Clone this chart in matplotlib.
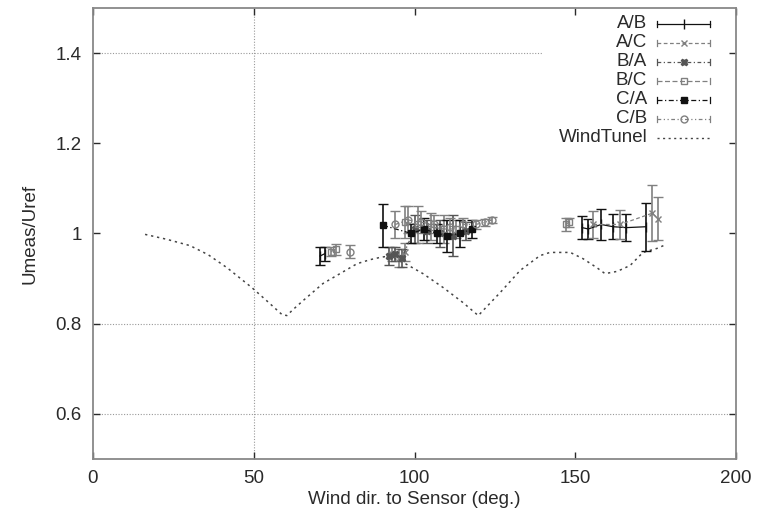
import numpy as np
import matplotlib
matplotlib.use("Agg")
import matplotlib.pyplot as plt
from matplotlib.lines import Line2D

plt.rcParams['font.family'] = ['Liberation Sans', 'DejaVu Sans']

# ---- data ----
AB_x = [70.6, 72.0, 152.1, 154.0, 158.0, 161.7, 165.8, 172.0]
AB_y = [0.950, 0.955, 1.013, 1.010, 1.020, 1.015, 1.013, 1.015]
AB_e = [0.020, 0.015, 0.026, 0.023, 0.034, 0.028, 0.030, 0.053]

AC_x = [93.0, 95.0, 97.0, 155.6, 163.9, 173.9, 175.7]
AC_y = [0.955, 0.945, 0.960, 1.020, 1.020, 1.045, 1.033]
AC_e = [0.015, 0.020, 0.020, 0.030, 0.033, 0.062, 0.048]

BA_x = [92.0, 94.0, 96.0, 100.0, 104.0, 108.0, 112.0, 116.0]
BA_y = [0.950, 0.955, 0.945, 1.010, 1.005, 1.000, 0.995, 1.005]
BA_e = [0.020, 0.015, 0.020, 0.030, 0.025, 0.030, 0.045, 0.020]

BC_x = [74.0, 75.5, 97.0, 101.0, 105.0, 109.0, 113.0, 147.0, 148.0]
BC_y = [0.960, 0.965, 1.025, 1.020, 1.015, 1.010, 1.010, 1.020, 1.025]
BC_e = [0.010, 0.012, 0.035, 0.040, 0.030, 0.030, 0.020, 0.015, 0.010]

CA_x = [90.2, 99.0, 103.0, 107.0, 110.0, 114.0, 118.0]
CA_y = [1.018, 1.000, 1.010, 1.000, 0.995, 1.000, 1.010]
CA_e = [0.047, 0.020, 0.025, 0.020, 0.035, 0.030, 0.020]

CB_x = [79.9, 94.0, 98.0, 102.0, 106.0, 111.0, 115.0, 119.0, 122.0, 124.0]
CB_y = [0.960, 1.020, 1.030, 1.025, 1.020, 1.015, 1.020, 1.020, 1.025, 1.030]
CB_e = [0.015, 0.030, 0.030, 0.025, 0.020, 0.020, 0.015, 0.010, 0.008, 0.006]

WT_x = [16.2, 23.0, 30.2, 35.8, 41.7, 49.4, 54.0, 58.8, 60.3, 62.0, 65.3, 71.5,
        76.8, 82.1, 86.2, 89.3, 92.0, 96.4, 102.6, 108.9, 115.0, 119.8, 126.6,
        132.8, 139.0, 142.1, 145.2, 148.4, 152.4, 156.7, 159.2, 163.0, 167.0,
        171.0, 175.4, 178.0]
WT_y = [0.998, 0.987, 0.973, 0.953, 0.924, 0.880, 0.851, 0.820, 0.818, 0.830,
        0.851, 0.889, 0.911, 0.933, 0.942, 0.947, 0.950, 0.936, 0.911, 0.880,
        0.847, 0.818, 0.869, 0.918, 0.951, 0.958, 0.958, 0.958, 0.944, 0.924,
        0.911, 0.916, 0.929, 0.958, 0.967, 0.975]

x_ticks = [0, 50, 100, 150, 200]
y_ticks = [0.6, 0.8, 1.0, 1.2, 1.4]
y_tick_labels = ['0.6', '0.8', '1', '1.2', '1.4']

series = [
    ("A/B", AB_x, AB_y, AB_e, '#111111', '-', '|', 'none', 7),
    ("A/C", AC_x, AC_y, AC_e, '#808080', (0, (3, 2)), 'x', 'none', 5),
    ("B/A", BA_x, BA_y, BA_e, '#555555', (0, (3, 2, 1, 2)), 'X', '#555555', 5),
    ("B/C", BC_x, BC_y, BC_e, '#808080', (0, (4, 2)), 's', 'none', 5),
    ("C/A", CA_x, CA_y, CA_e, '#111111', (0, (4, 2, 1, 2)), 's', '#111111', 5),
    ("C/B", CB_x, CB_y, CB_e, '#808080', (0, (3, 2, 1, 2, 1, 2)), 'o', 'none', 5),
]

FS = 13.5
TXT = '#2a2a2a'

fig = plt.figure(figsize=(7.59, 5.16), dpi=100)
ax = fig.add_axes([0.1225, 0.1105, 0.8475, 0.874])

# grid lines (only some visible in reference)
ax.axvline(50, color='#999999', lw=0.8, ls=(0, (1, 1.5)), zorder=0)
for gy in [0.6, 0.8]:
    ax.axhline(gy, color='#999999', lw=0.8, ls=(0, (1, 1.5)), zorder=0)
ax.plot([0, 140], [1.4, 1.4], color='#999999', lw=0.8, ls=(0, (1, 1.5)), zorder=0)

ax.plot(WT_x, WT_y, color='#444444', lw=1.1, ls=(0, (1.5, 2.5)))

for name, xs, ys, es, col, ls, mk, mfc, ms in series:
    xs = np.asarray(xs); ys = np.asarray(ys); es = np.asarray(es)
    breaks = np.where(np.diff(xs) > 12)[0] + 1
    for seg in np.split(np.arange(len(xs)), breaks):
        ax.errorbar(xs[seg], ys[seg], yerr=es[seg], color=col, ls=ls, lw=0.9,
                    marker=mk, mfc=mfc, mec=col, ms=ms, capsize=3.5,
                    elinewidth=1.2, capthick=1.0)

ax.set_xlim(0, 200)
ax.set_ylim(0.5, 1.5)
ax.set_xticks(x_ticks)
ax.set_yticks(y_ticks)
ax.set_yticklabels(y_tick_labels)
ax.tick_params(direction='in', top=True, right=True, length=5, width=1.0,
               labelsize=FS, colors=TXT, pad=8)
for s in ax.spines.values():
    s.set_color('#888888')
    s.set_linewidth(1.3)

ax.set_xlabel('Wind dir. to Sensor (deg.)', fontsize=FS, color=TXT, labelpad=3)
ax.set_ylabel('Umeas/Uref', fontsize=FS, color=TXT, labelpad=12)

# manual legend (gnuplot style: label right aligned, sample to the right)
row_y0 = 1 - (24 - 8) / 451.0
dy = 19 / 451.0
tx = (647 - 93) / 643.0
lx0 = (657 - 93) / 643.0
lx1 = (710 - 93) / 643.0
for i, (name, xs, ys, es, col, ls, mk, mfc, ms) in enumerate(series):
    yy = row_y0 - i * dy
    ax.text(tx, yy, name, transform=ax.transAxes, ha='right', va='center',
            fontsize=FS, color=TXT)
    ax.add_line(Line2D([lx0, lx1], [yy, yy], transform=ax.transAxes,
                       color=col, ls=ls, lw=0.9))
    ax.add_line(Line2D([lx0, lx0], [yy - 0.006, yy + 0.006], transform=ax.transAxes,
                       color=col, lw=0.9))
    ax.add_line(Line2D([lx1, lx1], [yy - 0.006, yy + 0.006], transform=ax.transAxes,
                       color=col, lw=0.9))
    ax.add_line(Line2D([(lx0 + lx1) / 2], [yy], transform=ax.transAxes,
                       color=col, marker=mk, mfc=mfc, mec=col, ms=ms, ls='none'))
yy = row_y0 - 6 * dy
ax.text(tx, yy, 'WindTunel', transform=ax.transAxes, ha='right', va='center',
        fontsize=FS, color=TXT)
ax.add_line(Line2D([lx0, lx1], [yy, yy], transform=ax.transAxes,
                   color='#444444', ls=(0, (1.5, 2.5)), lw=1.0))

fig.savefig('out.png', dpi=100)
